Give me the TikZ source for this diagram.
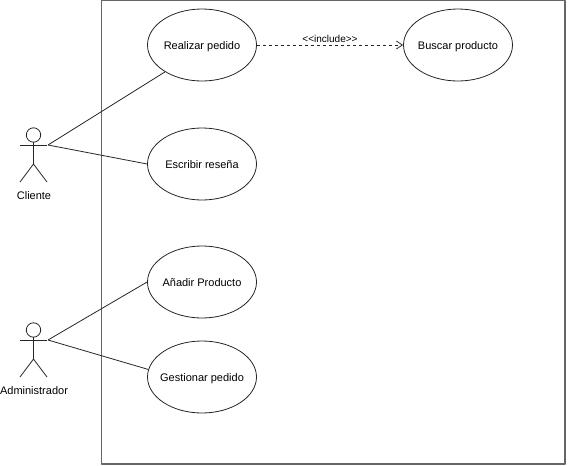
\documentclass[tikz,border=0pt]{standalone}
\usepackage{fontspec}
\setmainfont{Liberation Sans}
\usetikzlibrary{shapes.geometric,arrows.meta}
\tikzset{
usecase/.style={draw=black!85,ellipse,fill=white,text=black,minimum width=109,minimum height=72,inner xsep=-12pt,inner ysep=0pt,text height=8pt,text depth=0pt,line width=0.8pt},
actorlabel/.style={inner sep=0pt,black},
assoc/.style={line width=0.8pt,draw=black!85},
}
\begin{document}
\begin{tikzpicture}[x=1pt,y=-1pt,line join=round,font=\fontsize{11}{12}\selectfont,>={Straight Barb[length=6pt,width=8pt]}]
\useasboundingbox (0,0) rectangle (568,466);
\draw[line width=1.3pt,black!60] (101.5,0.5) rectangle (565,464);
% actors
\foreach \a/\x/\y/\t in {cliente/33.5/135/Cliente,admin/33.5/330/Administrador}{
\draw[assoc] (\x,\y) circle (7.2);
\draw[assoc] (\x,\y+7.2)--(\x,\y+29) (\x-13.5,\y+10)--(\x+13.5,\y+10);
\draw[assoc] (\x-13.5,\y+47)--(\x,\y+29)--(\x+13.5,\y+47);
\coordinate (\a) at (\x+14.5,\y+10);
\node[actorlabel] (\a label) at (\x+0.5,\y+60.5) {\t};
}
% use cases
\node[usecase] (realizar) at (202,45) {Realizar pedido};
\node[usecase] (buscar) at (458,45) {Buscar producto};
\node[usecase] (escribir) at (202,164) {Escribir reseña};
\node[usecase] (anadir) at (202,282) {Añadir Producto};
\node[usecase] (gestionar) at (202,377) {Gestionar pedido};
\draw[assoc] (cliente)--(realizar.216);
\draw[assoc] (cliente)--(escribir.west);
\draw[assoc] (admin)--(anadir.west);
\draw[assoc] (admin)--(gestionar.172);
\draw[assoc,->,dash pattern=on 3pt off 3pt] (realizar)--(buscar) node[midway,above=2pt,font=\fontsize{10}{11}\selectfont,inner sep=0pt,text=black] (include) {<{}<include>{}>};
\end{tikzpicture}
\end{document}
